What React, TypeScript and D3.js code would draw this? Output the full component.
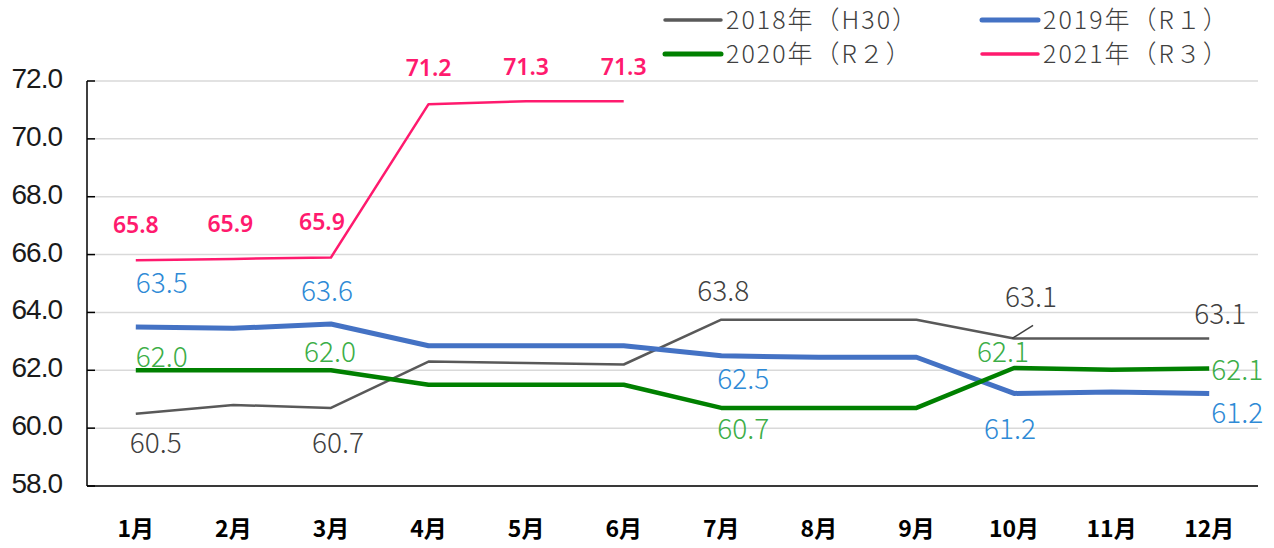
import React from "react";
import * as d3 from "d3";

const months = ["1月", "2月", "3月", "4月", "5月", "6月", "7月", "8月", "9月", "10月", "11月", "12月"];
const yTicks = [58, 60, 62, 64, 66, 68, 70, 72];

const s2018 = [60.5, 60.8, 60.7, 62.3, 62.25, 62.2, 63.75, 63.75, 63.75, 63.1, 63.1, 63.1];
const s2019 = [63.5, 63.45, 63.6, 62.85, 62.85, 62.85, 62.5, 62.45, 62.45, 61.2, 61.25, 61.2];
const s2020 = [62.0, 62.0, 62.0, 61.5, 61.5, 61.5, 60.7, 60.7, 60.7, 62.08, 62.02, 62.06];
const s2021 = [65.8, 65.85, 65.9, 71.2, 71.3, 71.3];

const names = ["2018年（H30）", "2019年（R１）", "2020年（R２）", "2021年（R３）"];
const lineColors = ["#595959", "#4472c4", "#008000", "#ff1a6e"];
const labelColors = ["#404040", "#2e8ad6", "#3cae47", "#ff1a6e"];
const lineWidths = [2.5, 5, 4.5, 2.5];

// label texts with index and offsets (dx, dy) relative to the point
const labels2018 = [
  { i: 0, t: "60.5", dx: 20, dy: 39 },
  { i: 2, t: "60.7", dx: 7, dy: 45 },
  { i: 6, t: "63.8", dx: 2, dy: -19 },
  { i: 9, t: "63.1", dx: 17, dy: -31, leader: true },
  { i: 11, t: "63.1", dx: 11, dy: -14 },
];
const labels2019 = [
  { i: 0, t: "63.5", dx: 26, dy: -34 },
  { i: 2, t: "63.6", dx: -4, dy: -23 },
  { i: 6, t: "62.5", dx: 22, dy: 33 },
  { i: 9, t: "61.2", dx: -4, dy: 46 },
  { i: 11, t: "61.2", dx: 28, dy: 30 },
];
const labels2020 = [
  { i: 0, t: "62.0", dx: 26, dy: -3 },
  { i: 2, t: "62.0", dx: -1, dy: -8 },
  { i: 6, t: "60.7", dx: 22, dy: 31 },
  { i: 9, t: "62.1", dx: -11, dy: -6 },
  { i: 11, t: "62.1", dx: 28, dy: 11 },
];
const labels2021 = [
  { i: 0, t: "65.8", dx: 0, dy: -27 },
  { i: 1, t: "65.9", dx: -3, dy: -27 },
  { i: 2, t: "65.9", dx: -9, dy: -27 },
  { i: 3, t: "71.2", dx: 0, dy: -28 },
  { i: 4, t: "71.3", dx: 0, dy: -26 },
  { i: 5, t: "71.3", dx: 0, dy: -26 },
];

const W = 1274;
const H = 548;
const left = 87;
const right = 1258;
const top = 81;
const bottom = 486;

export default function App() {
  const x = d3.scaleBand<string>().domain(months).range([left, right]).paddingInner(0).paddingOuter(0);
  const cx = (i: number) => (x(months[i]) as number) + x.bandwidth() / 2;
  const y = d3.scaleLinear().domain([58, 72]).range([bottom, top]);
  const line = d3
    .line<number>()
    .x((_, i) => cx(i))
    .y((v) => y(v));

  const series = [s2018, s2019, s2020, s2021];
  const labelSets = [labels2018, labels2019, labels2020, labels2021];
  const jp = "'Noto Sans CJK JP', 'Noto Sans', sans-serif";

  const legendPos = [
    { lx: 665, row: 0 },
    { lx: 982, row: 0 },
    { lx: 665, row: 1 },
    { lx: 982, row: 1 },
  ];

  return (
    <svg
      width={W}
      height={H}
      style={{ position: "absolute", left: 0, top: 0, background: "#fff" }}
    >
      {yTicks.map((t) => (
        <line key={"g" + t} x1={left} x2={right} y1={y(t)} y2={y(t)} stroke="#d9d9d9" strokeWidth={1.5} />
      ))}
      {yTicks.map((t) => (
        <line key={"t" + t} x1={left} x2={left + 8} y1={y(t)} y2={y(t)} stroke="#000" strokeWidth={1.5} />
      ))}
      <line x1={left} x2={left} y1={top} y2={bottom} stroke="#000" strokeWidth={1.5} />
      <line x1={left} x2={right} y1={bottom} y2={bottom} stroke="#000" strokeWidth={1.5} />

      {yTicks.map((t) => (
        <text
          key={"yl" + t}
          x={62}
          y={y(t) + 7}
          textAnchor="end"
          fontFamily="'Liberation Sans', Arial, sans-serif"
          fontSize={28}
          fill="#1a1a1a"
          letterSpacing={-1}
        >
          {t.toFixed(1)}
        </text>
      ))}

      {months.map((m, i) => (
        <text
          key={"xl" + m}
          x={cx(i)}
          y={537}
          textAnchor="middle"
          fontFamily={jp}
          fontWeight={700}
          fontSize={23}
          fill="#000"
        >
          {m}
        </text>
      ))}

      {series.map((s, k) => (
        <path
          key={"ln" + k}
          d={line(s) || ""}
          fill="none"
          stroke={lineColors[k]}
          strokeWidth={lineWidths[k]}
          strokeLinejoin="round"
        />
      ))}

      {labelSets.map((set, k) =>
        set.map((lb, j) => {
          const px = cx(lb.i);
          const py = y(series[k][lb.i]);
          return (
            <g key={"lb" + k + "-" + j}>
              {(lb as any).leader ? (
                <line x1={px - 2} y1={py} x2={px + 19} y2={py - 13} stroke="#404040" strokeWidth={1.5} />
              ) : null}
              <text
                x={px + lb.dx}
                y={py + lb.dy}
                textAnchor="middle"
                fontFamily={k === 3 ? "'Noto Sans', 'Liberation Sans', sans-serif" : jp}
                fontWeight={k === 3 ? 600 : 300}
                fontSize={k === 3 ? 23 : 28}
                fill={labelColors[k]}
              >
                {lb.t}
              </text>
            </g>
          );
        })
      )}

      {names.map((n, k) => {
        const p = legendPos[k];
        const ly = p.row === 0 ? 20 : 54;
        return (
          <g key={"lg" + k}>
            <line
              x1={p.lx}
              x2={p.lx + 56}
              y1={ly}
              y2={ly}
              stroke={lineColors[k]}
              strokeWidth={k === 1 || k === 2 ? 5 : 3.5}
              strokeLinecap="round"
            />
            <text
              x={p.lx + 61}
              y={ly + 9}
              fontFamily={jp}
              fontWeight={300}
              fontSize={25}
              letterSpacing={2}
              fill="#404040"
            >
              {n}
            </text>
          </g>
        );
      })}
    </svg>
  );
}
